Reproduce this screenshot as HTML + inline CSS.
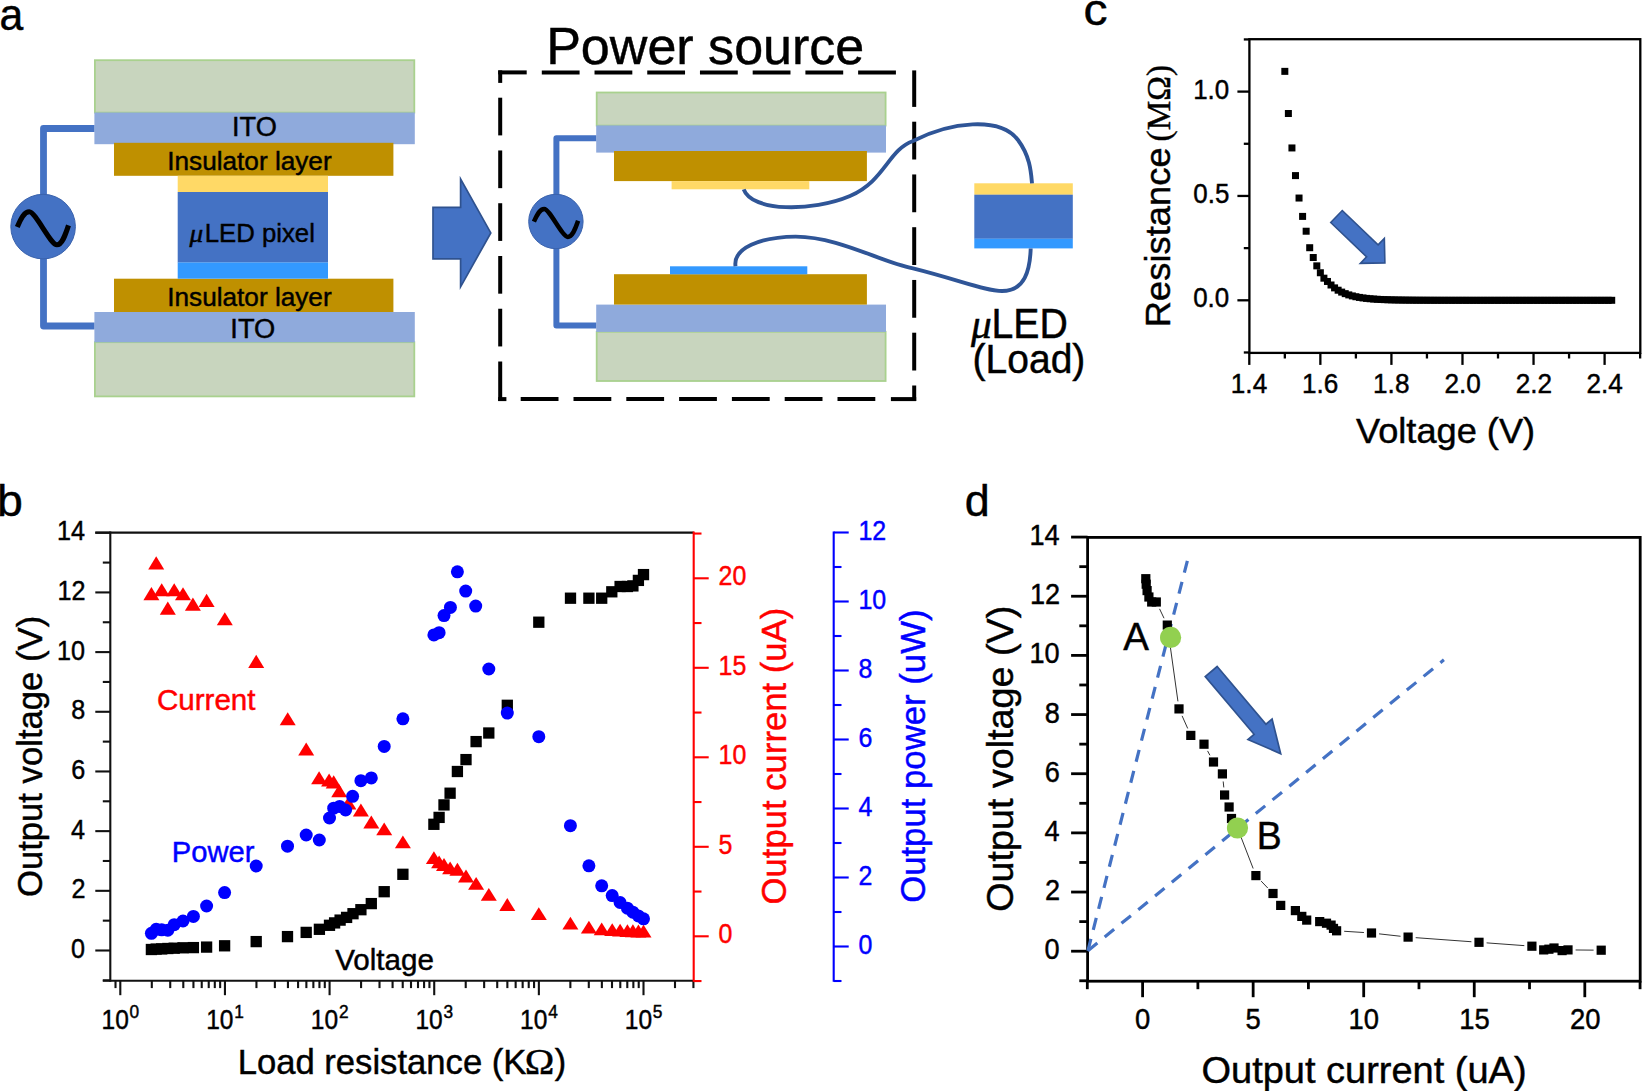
<!DOCTYPE html>
<html><head><meta charset="utf-8"><title>Figure</title>
<style>html,body{margin:0;padding:0;background:#fff;}svg{display:block;}</style></head>
<body><svg width="1642" height="1091" viewBox="0 0 1642 1091">
<rect width="1642" height="1091" fill="#fff"/>
<rect x="94.90" y="60.20" width="319.40" height="52.40" fill="#C8D5BE" stroke="#A9D18E" stroke-width="1.8"/>
<rect x="94.90" y="342.20" width="319.40" height="54.20" fill="#C8D5BE" stroke="#A9D18E" stroke-width="1.8"/>
<rect x="94.40" y="112.50" width="320.40" height="31.70" fill="#8FAADC"/>
<rect x="94.40" y="312.00" width="320.40" height="30.30" fill="#8FAADC"/>
<rect x="114.00" y="142.80" width="279.40" height="33.00" fill="#BF9000"/>
<rect x="114.00" y="278.70" width="279.40" height="33.30" fill="#BF9000"/>
<rect x="177.70" y="175.80" width="150.30" height="16.30" fill="#FFD966"/>
<rect x="177.70" y="192.00" width="150.30" height="70.60" fill="#4472C4"/>
<rect x="177.70" y="262.50" width="150.30" height="16.20" fill="#3399FF"/>
<path d="M94.4,128.5 H43.5 V326 H94.4" fill="none" stroke="#4472C4" stroke-width="6.8" stroke-linejoin="round"/>
<circle cx="43.1" cy="226.6" r="32.3" fill="#4472C4" stroke="#3A62AC" stroke-width="1"/>
<path d="M17.3,227 C21.5,217 24.5,211.8 29.3,211.8 C35.5,211.8 50.5,244.8 56.9,244.8 C62,244.8 65,236 68.5,225.4" fill="none" stroke="#000" stroke-width="5.1"/>
<text transform="translate(231.95,135.90) scale(1.0081,1)" font-size="27" font-family="Liberation Sans, Arial, sans-serif" fill="#000" stroke="#000" stroke-width="0.45" >ITO</text>
<text transform="translate(167.24,169.90) scale(1.0072,1)" font-size="26" font-family="Liberation Sans, Arial, sans-serif" fill="#000" stroke="#000" stroke-width="0.45" >Insulator layer</text>
<text transform="translate(189.50,241.70) scale(1.0475,1)" font-size="26" font-family="Liberation Serif, Times New Roman, serif" font-style="italic" fill="#000" stroke="#000" stroke-width="0.45" >μ</text>
<text transform="translate(204.74,241.70) scale(0.9756,1)" font-size="26.4" font-family="Liberation Sans, Arial, sans-serif" fill="#000" stroke="#000" stroke-width="0.45" >LED pixel</text>
<text transform="translate(167.24,306.20) scale(1.0072,1)" font-size="26" font-family="Liberation Sans, Arial, sans-serif" fill="#000" stroke="#000" stroke-width="0.45" >Insulator layer</text>
<text transform="translate(230.34,337.80) scale(1.0105,1)" font-size="27" font-family="Liberation Sans, Arial, sans-serif" fill="#000" stroke="#000" stroke-width="0.45" >ITO</text>
<path d="M433,207.4 H460.6 V179 L490.8,232.9 L460.6,286.8 V258.9 H433 Z" fill="#4472C4" stroke="#2F528F" stroke-width="1.7" stroke-linejoin="miter"/>
<text transform="translate(546.14,64.40) scale(1.0010,1)" font-size="52" font-family="Liberation Sans, Arial, sans-serif" fill="#000" stroke="#000" stroke-width="0.45" >Power source</text>
<line x1="498.20" y1="72.40" x2="526.70" y2="72.40" stroke="#000" stroke-width="4" />
<line x1="541.80" y1="72.40" x2="579.60" y2="72.40" stroke="#000" stroke-width="4" />
<line x1="594.52" y1="72.40" x2="632.32" y2="72.40" stroke="#000" stroke-width="4" />
<line x1="647.24" y1="72.40" x2="685.04" y2="72.40" stroke="#000" stroke-width="4" />
<line x1="699.96" y1="72.40" x2="737.76" y2="72.40" stroke="#000" stroke-width="4" />
<line x1="752.68" y1="72.40" x2="790.48" y2="72.40" stroke="#000" stroke-width="4" />
<line x1="805.40" y1="72.40" x2="843.20" y2="72.40" stroke="#000" stroke-width="4" />
<line x1="858.12" y1="72.40" x2="895.92" y2="72.40" stroke="#000" stroke-width="4" />
<line x1="500.20" y1="70.40" x2="500.20" y2="82.90" stroke="#000" stroke-width="4" />
<line x1="500.20" y1="97.70" x2="500.20" y2="135.40" stroke="#000" stroke-width="4" />
<line x1="500.20" y1="150.46" x2="500.20" y2="188.16" stroke="#000" stroke-width="4" />
<line x1="500.20" y1="203.22" x2="500.20" y2="240.92" stroke="#000" stroke-width="4" />
<line x1="500.20" y1="255.98" x2="500.20" y2="293.68" stroke="#000" stroke-width="4" />
<line x1="500.20" y1="308.74" x2="500.20" y2="346.44" stroke="#000" stroke-width="4" />
<line x1="500.20" y1="361.50" x2="500.20" y2="401.00" stroke="#000" stroke-width="4" />
<line x1="914.20" y1="70.40" x2="914.20" y2="106.90" stroke="#000" stroke-width="4" />
<line x1="914.20" y1="121.70" x2="914.20" y2="159.50" stroke="#000" stroke-width="4" />
<line x1="914.20" y1="174.45" x2="914.20" y2="212.25" stroke="#000" stroke-width="4" />
<line x1="914.20" y1="227.20" x2="914.20" y2="265.00" stroke="#000" stroke-width="4" />
<line x1="914.20" y1="279.95" x2="914.20" y2="317.75" stroke="#000" stroke-width="4" />
<line x1="914.20" y1="332.70" x2="914.20" y2="370.50" stroke="#000" stroke-width="4" />
<line x1="914.20" y1="385.50" x2="914.20" y2="401.00" stroke="#000" stroke-width="4" />
<line x1="498.20" y1="399.10" x2="506.40" y2="399.10" stroke="#000" stroke-width="4" />
<line x1="520.70" y1="399.10" x2="558.50" y2="399.10" stroke="#000" stroke-width="4" />
<line x1="573.50" y1="399.10" x2="611.30" y2="399.10" stroke="#000" stroke-width="4" />
<line x1="626.30" y1="399.10" x2="664.10" y2="399.10" stroke="#000" stroke-width="4" />
<line x1="679.10" y1="399.10" x2="716.90" y2="399.10" stroke="#000" stroke-width="4" />
<line x1="731.90" y1="399.10" x2="769.70" y2="399.10" stroke="#000" stroke-width="4" />
<line x1="784.70" y1="399.10" x2="822.50" y2="399.10" stroke="#000" stroke-width="4" />
<line x1="837.50" y1="399.10" x2="875.30" y2="399.10" stroke="#000" stroke-width="4" />
<line x1="890.90" y1="399.10" x2="916.20" y2="399.10" stroke="#000" stroke-width="4" />
<rect x="596.70" y="92.50" width="288.90" height="33.10" fill="#C8D5BE" stroke="#A9D18E" stroke-width="1.8"/>
<rect x="596.70" y="331.80" width="288.90" height="49.20" fill="#C8D5BE" stroke="#A9D18E" stroke-width="1.8"/>
<rect x="596.20" y="125.40" width="289.80" height="27.20" fill="#8FAADC"/>
<rect x="596.20" y="304.60" width="289.80" height="27.30" fill="#8FAADC"/>
<rect x="614.00" y="151.00" width="252.90" height="30.10" fill="#BF9000"/>
<rect x="614.00" y="274.20" width="252.90" height="30.40" fill="#BF9000"/>
<rect x="671.60" y="181.10" width="137.70" height="8.20" fill="#FFD966"/>
<rect x="670.00" y="266.30" width="137.30" height="8.00" fill="#3399FF"/>
<path d="M596.2,138.2 H556.4 V325.5 H596.2" fill="none" stroke="#4472C4" stroke-width="6.0" stroke-linejoin="round"/>
<circle cx="555.9" cy="221.5" r="27.2" fill="#4472C4" stroke="#3A62AC" stroke-width="1"/>
<path d="M533.9,221.7 C537.5,213.5 540,208.9 544.2,208.9 C549.5,208.9 562.3,236.9 567.8,236.9 C572,236.9 575,230 578.1,220.8" fill="none" stroke="#000" stroke-width="4.5"/>
<rect x="974.30" y="183.30" width="98.50" height="11.50" fill="#FFD966"/>
<rect x="974.30" y="194.70" width="98.50" height="44.10" fill="#4472C4"/>
<rect x="974.30" y="238.70" width="98.50" height="9.70" fill="#3399FF"/>
<path d="M743.7,189.3 C752,212 812,212 850,196 C885,181 888,150 913,141 C950,122 1000,116 1018,140 C1030,156 1031,172 1032,183.3" fill="none" stroke="#2F5597" stroke-width="3.9"/>
<path d="M735.5,266.3 C733,248 760,237 795.7,236.6 C840,237 880,262 913,268.3 C960,280 985,291 1002,291 C1025,291 1030,270 1030.7,248.5" fill="none" stroke="#2F5597" stroke-width="3.9"/>
<text transform="translate(971.00,337.80) scale(1.0319,1)" font-size="40" font-family="Liberation Serif, Times New Roman, serif" font-style="italic" fill="#000" stroke="#000" stroke-width="0.45" >μ</text>
<text transform="translate(991.46,337.80) scale(0.9430,1)" font-size="41.6" font-family="Liberation Sans, Arial, sans-serif" fill="#000" stroke="#000" stroke-width="0.45" >LED</text>
<text transform="translate(972.56,372.80) scale(0.9756,1)" font-size="40" font-family="Liberation Sans, Arial, sans-serif" fill="#000" stroke="#000" stroke-width="0.45" >(Load)</text>
<text transform="translate(-0.61,30.00) scale(0.9643,1)" font-size="44.3" font-family="Liberation Sans, Arial, sans-serif" fill="#000" stroke="#000" stroke-width="0.45" >a</text>
<text transform="translate(-3.02,515.50) scale(1.0484,1)" font-size="44.3" font-family="Liberation Sans, Arial, sans-serif" fill="#000" stroke="#000" stroke-width="0.45" >b</text>
<text transform="translate(1083.48,24.80) scale(1.0846,1)" font-size="44.3" font-family="Liberation Sans, Arial, sans-serif" fill="#000" stroke="#000" stroke-width="0.45" >c</text>
<text transform="translate(964.70,515.50) scale(1.0133,1)" font-size="44.3" font-family="Liberation Sans, Arial, sans-serif" fill="#000" stroke="#000" stroke-width="0.45" >d</text>
<rect x="1249.4" y="39.2" width="390.89999999999986" height="313.7" fill="none" stroke="#000" stroke-width="2.3"/>
<line x1="1243.80" y1="352.48" x2="1249.40" y2="352.48" stroke="#000" stroke-width="2.3" />
<line x1="1237.40" y1="300.30" x2="1249.40" y2="300.30" stroke="#000" stroke-width="2.3" />
<text transform="translate(1193.19,307.30) scale(0.9423,1)" font-size="27.5" font-family="Liberation Sans, Arial, sans-serif" fill="#000" stroke="#000" stroke-width="0.45" >0.0</text>
<line x1="1243.80" y1="248.12" x2="1249.40" y2="248.12" stroke="#000" stroke-width="2.3" />
<line x1="1237.40" y1="195.95" x2="1249.40" y2="195.95" stroke="#000" stroke-width="2.3" />
<text transform="translate(1193.32,202.95) scale(0.9423,1)" font-size="27.5" font-family="Liberation Sans, Arial, sans-serif" fill="#000" stroke="#000" stroke-width="0.45" >0.5</text>
<line x1="1243.80" y1="143.78" x2="1249.40" y2="143.78" stroke="#000" stroke-width="2.3" />
<line x1="1237.40" y1="91.60" x2="1249.40" y2="91.60" stroke="#000" stroke-width="2.3" />
<text transform="translate(1193.19,98.60) scale(0.9423,1)" font-size="27.5" font-family="Liberation Sans, Arial, sans-serif" fill="#000" stroke="#000" stroke-width="0.45" >1.0</text>
<line x1="1243.80" y1="39.43" x2="1249.40" y2="39.43" stroke="#000" stroke-width="2.3" />
<line x1="1249.30" y1="352.90" x2="1249.30" y2="364.90" stroke="#000" stroke-width="2.3" />
<text transform="translate(1230.82,392.60) scale(0.9519,1)" font-size="27.5" font-family="Liberation Sans, Arial, sans-serif" fill="#000" stroke="#000" stroke-width="0.45" >1.4</text>
<line x1="1284.83" y1="352.90" x2="1284.83" y2="358.50" stroke="#000" stroke-width="2.3" />
<line x1="1320.36" y1="352.90" x2="1320.36" y2="364.90" stroke="#000" stroke-width="2.3" />
<text transform="translate(1302.01,392.60) scale(0.9519,1)" font-size="27.5" font-family="Liberation Sans, Arial, sans-serif" fill="#000" stroke="#000" stroke-width="0.45" >1.6</text>
<line x1="1355.89" y1="352.90" x2="1355.89" y2="358.50" stroke="#000" stroke-width="2.3" />
<line x1="1391.42" y1="352.90" x2="1391.42" y2="364.90" stroke="#000" stroke-width="2.3" />
<text transform="translate(1373.07,392.60) scale(0.9519,1)" font-size="27.5" font-family="Liberation Sans, Arial, sans-serif" fill="#000" stroke="#000" stroke-width="0.45" >1.8</text>
<line x1="1426.95" y1="352.90" x2="1426.95" y2="358.50" stroke="#000" stroke-width="2.3" />
<line x1="1462.48" y1="352.90" x2="1462.48" y2="364.90" stroke="#000" stroke-width="2.3" />
<text transform="translate(1444.39,392.60) scale(0.9519,1)" font-size="27.5" font-family="Liberation Sans, Arial, sans-serif" fill="#000" stroke="#000" stroke-width="0.45" >2.0</text>
<line x1="1498.01" y1="352.90" x2="1498.01" y2="358.50" stroke="#000" stroke-width="2.3" />
<line x1="1533.54" y1="352.90" x2="1533.54" y2="364.90" stroke="#000" stroke-width="2.3" />
<text transform="translate(1515.65,392.60) scale(0.9519,1)" font-size="27.5" font-family="Liberation Sans, Arial, sans-serif" fill="#000" stroke="#000" stroke-width="0.45" >2.2</text>
<line x1="1569.07" y1="352.90" x2="1569.07" y2="358.50" stroke="#000" stroke-width="2.3" />
<line x1="1604.60" y1="352.90" x2="1604.60" y2="364.90" stroke="#000" stroke-width="2.3" />
<text transform="translate(1586.44,392.60) scale(0.9519,1)" font-size="27.5" font-family="Liberation Sans, Arial, sans-serif" fill="#000" stroke="#000" stroke-width="0.45" >2.4</text>
<line x1="1640.13" y1="352.90" x2="1640.13" y2="358.50" stroke="#000" stroke-width="2.3" />
<text transform="translate(1356.02,442.80) scale(1.0200,1)" font-size="35.5" font-family="Liberation Sans, Arial, sans-serif" fill="#000" stroke="#000" stroke-width="0.45" >Voltage (V)</text>
<text transform="translate(1169.60,327.31) rotate(-90) scale(1.0108,1)" font-size="36" font-family="Liberation Sans, Arial, sans-serif" fill="#000" stroke="#000" stroke-width="0.45">Resistance</text>
<text transform="translate(1169.60,141.39) rotate(-90) scale(0.9627,1)" font-size="34.5" font-family="Liberation Serif, Times New Roman, serif" fill="#000" stroke="#000" stroke-width="0.45">(MΩ)</text>
<rect x="1281.33" y="67.86" width="7.0" height="7.0" fill="#000"/>
<rect x="1284.88" y="110.01" width="7.0" height="7.0" fill="#000"/>
<rect x="1288.44" y="144.45" width="7.0" height="7.0" fill="#000"/>
<rect x="1291.99" y="172.10" width="7.0" height="7.0" fill="#000"/>
<rect x="1295.54" y="194.54" width="7.0" height="7.0" fill="#000"/>
<rect x="1299.10" y="212.90" width="7.0" height="7.0" fill="#000"/>
<rect x="1302.65" y="227.72" width="7.0" height="7.0" fill="#000"/>
<rect x="1306.20" y="244.21" width="7.0" height="7.0" fill="#000"/>
<rect x="1309.75" y="254.02" width="7.0" height="7.0" fill="#000"/>
<rect x="1313.31" y="262.36" width="7.0" height="7.0" fill="#000"/>
<rect x="1316.86" y="269.25" width="7.0" height="7.0" fill="#000"/>
<rect x="1320.41" y="274.68" width="7.0" height="7.0" fill="#000"/>
<rect x="1323.97" y="277.96" width="7.0" height="7.0" fill="#000"/>
<rect x="1327.52" y="281.50" width="7.0" height="7.0" fill="#000"/>
<rect x="1331.07" y="284.38" width="7.0" height="7.0" fill="#000"/>
<rect x="1334.62" y="286.71" width="7.0" height="7.0" fill="#000"/>
<rect x="1338.18" y="288.61" width="7.0" height="7.0" fill="#000"/>
<rect x="1341.73" y="290.15" width="7.0" height="7.0" fill="#000"/>
<rect x="1345.28" y="291.40" width="7.0" height="7.0" fill="#000"/>
<rect x="1348.84" y="292.42" width="7.0" height="7.0" fill="#000"/>
<rect x="1352.39" y="293.24" width="7.0" height="7.0" fill="#000"/>
<rect x="1355.94" y="293.91" width="7.0" height="7.0" fill="#000"/>
<rect x="1359.50" y="294.45" width="7.0" height="7.0" fill="#000"/>
<rect x="1363.05" y="294.89" width="7.0" height="7.0" fill="#000"/>
<rect x="1366.60" y="295.25" width="7.0" height="7.0" fill="#000"/>
<rect x="1370.15" y="295.54" width="7.0" height="7.0" fill="#000"/>
<rect x="1373.71" y="295.78" width="7.0" height="7.0" fill="#000"/>
<rect x="1377.26" y="295.97" width="7.0" height="7.0" fill="#000"/>
<rect x="1380.81" y="296.13" width="7.0" height="7.0" fill="#000"/>
<rect x="1384.37" y="296.25" width="7.0" height="7.0" fill="#000"/>
<rect x="1387.92" y="296.36" width="7.0" height="7.0" fill="#000"/>
<rect x="1391.47" y="296.44" width="7.0" height="7.0" fill="#000"/>
<rect x="1395.03" y="296.51" width="7.0" height="7.0" fill="#000"/>
<rect x="1398.58" y="296.56" width="7.0" height="7.0" fill="#000"/>
<rect x="1402.13" y="296.61" width="7.0" height="7.0" fill="#000"/>
<rect x="1405.68" y="296.64" width="7.0" height="7.0" fill="#000"/>
<rect x="1409.24" y="296.67" width="7.0" height="7.0" fill="#000"/>
<rect x="1412.79" y="296.70" width="7.0" height="7.0" fill="#000"/>
<rect x="1416.34" y="296.72" width="7.0" height="7.0" fill="#000"/>
<rect x="1419.90" y="296.73" width="7.0" height="7.0" fill="#000"/>
<rect x="1423.45" y="296.74" width="7.0" height="7.0" fill="#000"/>
<rect x="1427.00" y="296.76" width="7.0" height="7.0" fill="#000"/>
<rect x="1430.56" y="296.76" width="7.0" height="7.0" fill="#000"/>
<rect x="1434.11" y="296.77" width="7.0" height="7.0" fill="#000"/>
<rect x="1437.66" y="296.78" width="7.0" height="7.0" fill="#000"/>
<rect x="1441.21" y="296.78" width="7.0" height="7.0" fill="#000"/>
<rect x="1444.77" y="296.78" width="7.0" height="7.0" fill="#000"/>
<rect x="1448.32" y="296.79" width="7.0" height="7.0" fill="#000"/>
<rect x="1451.87" y="296.79" width="7.0" height="7.0" fill="#000"/>
<rect x="1455.43" y="296.79" width="7.0" height="7.0" fill="#000"/>
<rect x="1458.98" y="296.79" width="7.0" height="7.0" fill="#000"/>
<rect x="1462.53" y="296.79" width="7.0" height="7.0" fill="#000"/>
<rect x="1466.09" y="296.80" width="7.0" height="7.0" fill="#000"/>
<rect x="1469.64" y="296.80" width="7.0" height="7.0" fill="#000"/>
<rect x="1473.19" y="296.80" width="7.0" height="7.0" fill="#000"/>
<rect x="1476.74" y="296.80" width="7.0" height="7.0" fill="#000"/>
<rect x="1480.30" y="296.80" width="7.0" height="7.0" fill="#000"/>
<rect x="1483.85" y="296.80" width="7.0" height="7.0" fill="#000"/>
<rect x="1487.40" y="296.80" width="7.0" height="7.0" fill="#000"/>
<rect x="1490.96" y="296.80" width="7.0" height="7.0" fill="#000"/>
<rect x="1494.51" y="296.80" width="7.0" height="7.0" fill="#000"/>
<rect x="1498.06" y="296.80" width="7.0" height="7.0" fill="#000"/>
<rect x="1501.62" y="296.80" width="7.0" height="7.0" fill="#000"/>
<rect x="1505.17" y="296.80" width="7.0" height="7.0" fill="#000"/>
<rect x="1508.72" y="296.80" width="7.0" height="7.0" fill="#000"/>
<rect x="1512.28" y="296.80" width="7.0" height="7.0" fill="#000"/>
<rect x="1515.83" y="296.80" width="7.0" height="7.0" fill="#000"/>
<rect x="1519.38" y="296.80" width="7.0" height="7.0" fill="#000"/>
<rect x="1522.93" y="296.80" width="7.0" height="7.0" fill="#000"/>
<rect x="1526.49" y="296.80" width="7.0" height="7.0" fill="#000"/>
<rect x="1530.04" y="296.80" width="7.0" height="7.0" fill="#000"/>
<rect x="1533.59" y="296.80" width="7.0" height="7.0" fill="#000"/>
<rect x="1537.15" y="296.80" width="7.0" height="7.0" fill="#000"/>
<rect x="1540.70" y="296.80" width="7.0" height="7.0" fill="#000"/>
<rect x="1544.25" y="296.80" width="7.0" height="7.0" fill="#000"/>
<rect x="1547.81" y="296.80" width="7.0" height="7.0" fill="#000"/>
<rect x="1551.36" y="296.80" width="7.0" height="7.0" fill="#000"/>
<rect x="1554.91" y="296.80" width="7.0" height="7.0" fill="#000"/>
<rect x="1558.46" y="296.80" width="7.0" height="7.0" fill="#000"/>
<rect x="1562.02" y="296.80" width="7.0" height="7.0" fill="#000"/>
<rect x="1565.57" y="296.80" width="7.0" height="7.0" fill="#000"/>
<rect x="1569.12" y="296.80" width="7.0" height="7.0" fill="#000"/>
<rect x="1572.68" y="296.80" width="7.0" height="7.0" fill="#000"/>
<rect x="1576.23" y="296.80" width="7.0" height="7.0" fill="#000"/>
<rect x="1579.78" y="296.80" width="7.0" height="7.0" fill="#000"/>
<rect x="1583.34" y="296.80" width="7.0" height="7.0" fill="#000"/>
<rect x="1586.89" y="296.80" width="7.0" height="7.0" fill="#000"/>
<rect x="1590.44" y="296.80" width="7.0" height="7.0" fill="#000"/>
<rect x="1593.99" y="296.80" width="7.0" height="7.0" fill="#000"/>
<rect x="1597.55" y="296.80" width="7.0" height="7.0" fill="#000"/>
<rect x="1601.10" y="296.80" width="7.0" height="7.0" fill="#000"/>
<rect x="1604.65" y="296.80" width="7.0" height="7.0" fill="#000"/>
<rect x="1608.21" y="296.80" width="7.0" height="7.0" fill="#000"/>
<polygon points="1342.24,210.51 1378.08,244.87 1384.35,238.33 1384.90,262.90 1360.33,263.38 1366.60,256.85 1330.76,222.49" fill="#4472C4" stroke="#2F528F" stroke-width="1.6" stroke-linejoin="miter"/>
<line x1="110.30" y1="531.55" x2="110.30" y2="981.75" stroke="#111" stroke-width="2.1" />
<line x1="95.30" y1="532.60" x2="693.70" y2="532.60" stroke="#111" stroke-width="2.1" />
<line x1="102.80" y1="980.70" x2="693.70" y2="980.70" stroke="#111" stroke-width="2.1" />
<line x1="102.80" y1="980.34" x2="110.30" y2="980.34" stroke="#111" stroke-width="2.1" />
<line x1="95.30" y1="950.50" x2="110.30" y2="950.50" stroke="#111" stroke-width="2.1" />
<text transform="translate(71.00,958.00) scale(0.9327,1)" font-size="27" font-family="Liberation Sans, Arial, sans-serif" fill="#000" stroke="#000" stroke-width="0.45" >0</text>
<line x1="102.80" y1="920.66" x2="110.30" y2="920.66" stroke="#111" stroke-width="2.1" />
<line x1="95.30" y1="890.82" x2="110.30" y2="890.82" stroke="#111" stroke-width="2.1" />
<text transform="translate(71.38,898.32) scale(0.9327,1)" font-size="27" font-family="Liberation Sans, Arial, sans-serif" fill="#000" stroke="#000" stroke-width="0.45" >2</text>
<line x1="102.80" y1="860.98" x2="110.30" y2="860.98" stroke="#111" stroke-width="2.1" />
<line x1="95.30" y1="831.14" x2="110.30" y2="831.14" stroke="#111" stroke-width="2.1" />
<text transform="translate(70.88,838.64) scale(0.9327,1)" font-size="27" font-family="Liberation Sans, Arial, sans-serif" fill="#000" stroke="#000" stroke-width="0.45" >4</text>
<line x1="102.80" y1="801.30" x2="110.30" y2="801.30" stroke="#111" stroke-width="2.1" />
<line x1="95.30" y1="771.46" x2="110.30" y2="771.46" stroke="#111" stroke-width="2.1" />
<text transform="translate(71.13,778.96) scale(0.9327,1)" font-size="27" font-family="Liberation Sans, Arial, sans-serif" fill="#000" stroke="#000" stroke-width="0.45" >6</text>
<line x1="102.80" y1="741.62" x2="110.30" y2="741.62" stroke="#111" stroke-width="2.1" />
<line x1="95.30" y1="711.78" x2="110.30" y2="711.78" stroke="#111" stroke-width="2.1" />
<text transform="translate(71.13,719.28) scale(0.9327,1)" font-size="27" font-family="Liberation Sans, Arial, sans-serif" fill="#000" stroke="#000" stroke-width="0.45" >8</text>
<line x1="102.80" y1="681.94" x2="110.30" y2="681.94" stroke="#111" stroke-width="2.1" />
<line x1="95.30" y1="652.10" x2="110.30" y2="652.10" stroke="#111" stroke-width="2.1" />
<text transform="translate(57.03,659.60) scale(0.9327,1)" font-size="27" font-family="Liberation Sans, Arial, sans-serif" fill="#000" stroke="#000" stroke-width="0.45" >10</text>
<line x1="102.80" y1="622.26" x2="110.30" y2="622.26" stroke="#111" stroke-width="2.1" />
<line x1="95.30" y1="592.42" x2="110.30" y2="592.42" stroke="#111" stroke-width="2.1" />
<text transform="translate(57.41,599.92) scale(0.9327,1)" font-size="27" font-family="Liberation Sans, Arial, sans-serif" fill="#000" stroke="#000" stroke-width="0.45" >12</text>
<line x1="102.80" y1="562.58" x2="110.30" y2="562.58" stroke="#111" stroke-width="2.1" />
<line x1="95.30" y1="532.74" x2="110.30" y2="532.74" stroke="#111" stroke-width="2.1" />
<text transform="translate(56.90,540.24) scale(0.9327,1)" font-size="27" font-family="Liberation Sans, Arial, sans-serif" fill="#000" stroke="#000" stroke-width="0.45" >14</text>
<line x1="115.51" y1="980.70" x2="115.51" y2="988.10" stroke="#111" stroke-width="2.1" />
<line x1="120.30" y1="980.70" x2="120.30" y2="995.20" stroke="#111" stroke-width="2.1" />
<line x1="151.80" y1="980.70" x2="151.80" y2="988.10" stroke="#111" stroke-width="2.1" />
<line x1="170.23" y1="980.70" x2="170.23" y2="988.10" stroke="#111" stroke-width="2.1" />
<line x1="183.30" y1="980.70" x2="183.30" y2="988.10" stroke="#111" stroke-width="2.1" />
<line x1="193.44" y1="980.70" x2="193.44" y2="988.10" stroke="#111" stroke-width="2.1" />
<line x1="201.73" y1="980.70" x2="201.73" y2="988.10" stroke="#111" stroke-width="2.1" />
<line x1="208.73" y1="980.70" x2="208.73" y2="988.10" stroke="#111" stroke-width="2.1" />
<line x1="214.80" y1="980.70" x2="214.80" y2="988.10" stroke="#111" stroke-width="2.1" />
<line x1="220.15" y1="980.70" x2="220.15" y2="988.10" stroke="#111" stroke-width="2.1" />
<line x1="224.94" y1="980.70" x2="224.94" y2="995.20" stroke="#111" stroke-width="2.1" />
<line x1="256.44" y1="980.70" x2="256.44" y2="988.10" stroke="#111" stroke-width="2.1" />
<line x1="274.87" y1="980.70" x2="274.87" y2="988.10" stroke="#111" stroke-width="2.1" />
<line x1="287.94" y1="980.70" x2="287.94" y2="988.10" stroke="#111" stroke-width="2.1" />
<line x1="298.08" y1="980.70" x2="298.08" y2="988.10" stroke="#111" stroke-width="2.1" />
<line x1="306.37" y1="980.70" x2="306.37" y2="988.10" stroke="#111" stroke-width="2.1" />
<line x1="313.37" y1="980.70" x2="313.37" y2="988.10" stroke="#111" stroke-width="2.1" />
<line x1="319.44" y1="980.70" x2="319.44" y2="988.10" stroke="#111" stroke-width="2.1" />
<line x1="324.79" y1="980.70" x2="324.79" y2="988.10" stroke="#111" stroke-width="2.1" />
<line x1="329.58" y1="980.70" x2="329.58" y2="995.20" stroke="#111" stroke-width="2.1" />
<line x1="361.08" y1="980.70" x2="361.08" y2="988.10" stroke="#111" stroke-width="2.1" />
<line x1="379.51" y1="980.70" x2="379.51" y2="988.10" stroke="#111" stroke-width="2.1" />
<line x1="392.58" y1="980.70" x2="392.58" y2="988.10" stroke="#111" stroke-width="2.1" />
<line x1="402.72" y1="980.70" x2="402.72" y2="988.10" stroke="#111" stroke-width="2.1" />
<line x1="411.01" y1="980.70" x2="411.01" y2="988.10" stroke="#111" stroke-width="2.1" />
<line x1="418.01" y1="980.70" x2="418.01" y2="988.10" stroke="#111" stroke-width="2.1" />
<line x1="424.08" y1="980.70" x2="424.08" y2="988.10" stroke="#111" stroke-width="2.1" />
<line x1="429.43" y1="980.70" x2="429.43" y2="988.10" stroke="#111" stroke-width="2.1" />
<line x1="434.22" y1="980.70" x2="434.22" y2="995.20" stroke="#111" stroke-width="2.1" />
<line x1="465.72" y1="980.70" x2="465.72" y2="988.10" stroke="#111" stroke-width="2.1" />
<line x1="484.15" y1="980.70" x2="484.15" y2="988.10" stroke="#111" stroke-width="2.1" />
<line x1="497.22" y1="980.70" x2="497.22" y2="988.10" stroke="#111" stroke-width="2.1" />
<line x1="507.36" y1="980.70" x2="507.36" y2="988.10" stroke="#111" stroke-width="2.1" />
<line x1="515.65" y1="980.70" x2="515.65" y2="988.10" stroke="#111" stroke-width="2.1" />
<line x1="522.65" y1="980.70" x2="522.65" y2="988.10" stroke="#111" stroke-width="2.1" />
<line x1="528.72" y1="980.70" x2="528.72" y2="988.10" stroke="#111" stroke-width="2.1" />
<line x1="534.07" y1="980.70" x2="534.07" y2="988.10" stroke="#111" stroke-width="2.1" />
<line x1="538.86" y1="980.70" x2="538.86" y2="995.20" stroke="#111" stroke-width="2.1" />
<line x1="570.36" y1="980.70" x2="570.36" y2="988.10" stroke="#111" stroke-width="2.1" />
<line x1="588.79" y1="980.70" x2="588.79" y2="988.10" stroke="#111" stroke-width="2.1" />
<line x1="601.86" y1="980.70" x2="601.86" y2="988.10" stroke="#111" stroke-width="2.1" />
<line x1="612.00" y1="980.70" x2="612.00" y2="988.10" stroke="#111" stroke-width="2.1" />
<line x1="620.29" y1="980.70" x2="620.29" y2="988.10" stroke="#111" stroke-width="2.1" />
<line x1="627.29" y1="980.70" x2="627.29" y2="988.10" stroke="#111" stroke-width="2.1" />
<line x1="633.36" y1="980.70" x2="633.36" y2="988.10" stroke="#111" stroke-width="2.1" />
<line x1="638.71" y1="980.70" x2="638.71" y2="988.10" stroke="#111" stroke-width="2.1" />
<line x1="643.50" y1="980.70" x2="643.50" y2="995.20" stroke="#111" stroke-width="2.1" />
<line x1="675.00" y1="980.70" x2="675.00" y2="988.10" stroke="#111" stroke-width="2.1" />
<line x1="693.43" y1="980.70" x2="693.43" y2="988.10" stroke="#111" stroke-width="2.1" />
<text transform="translate(101.56,1029.00) scale(0.9074,1)" font-size="27" font-family="Liberation Sans, Arial, sans-serif" fill="#000" stroke="#000" stroke-width="0.45" >10</text>
<text transform="translate(129.60,1018.30) scale(0.9615,1)" font-size="18" font-family="Liberation Sans, Arial, sans-serif" fill="#000" stroke="#000" stroke-width="0.45" >0</text>
<text transform="translate(206.20,1029.00) scale(0.9074,1)" font-size="27" font-family="Liberation Sans, Arial, sans-serif" fill="#000" stroke="#000" stroke-width="0.45" >10</text>
<text transform="translate(234.24,1018.30) scale(0.9615,1)" font-size="18" font-family="Liberation Sans, Arial, sans-serif" fill="#000" stroke="#000" stroke-width="0.45" >1</text>
<text transform="translate(310.84,1029.00) scale(0.9074,1)" font-size="27" font-family="Liberation Sans, Arial, sans-serif" fill="#000" stroke="#000" stroke-width="0.45" >10</text>
<text transform="translate(338.88,1018.30) scale(0.9615,1)" font-size="18" font-family="Liberation Sans, Arial, sans-serif" fill="#000" stroke="#000" stroke-width="0.45" >2</text>
<text transform="translate(415.48,1029.00) scale(0.9074,1)" font-size="27" font-family="Liberation Sans, Arial, sans-serif" fill="#000" stroke="#000" stroke-width="0.45" >10</text>
<text transform="translate(443.52,1018.30) scale(0.9615,1)" font-size="18" font-family="Liberation Sans, Arial, sans-serif" fill="#000" stroke="#000" stroke-width="0.45" >3</text>
<text transform="translate(520.12,1029.00) scale(0.9074,1)" font-size="27" font-family="Liberation Sans, Arial, sans-serif" fill="#000" stroke="#000" stroke-width="0.45" >10</text>
<text transform="translate(548.16,1018.30) scale(0.9615,1)" font-size="18" font-family="Liberation Sans, Arial, sans-serif" fill="#000" stroke="#000" stroke-width="0.45" >4</text>
<text transform="translate(624.76,1029.00) scale(0.9074,1)" font-size="27" font-family="Liberation Sans, Arial, sans-serif" fill="#000" stroke="#000" stroke-width="0.45" >10</text>
<text transform="translate(652.80,1018.30) scale(0.9615,1)" font-size="18" font-family="Liberation Sans, Arial, sans-serif" fill="#000" stroke="#000" stroke-width="0.45" >5</text>
<line x1="693.70" y1="531.55" x2="693.70" y2="981.75" stroke="#FF0000" stroke-width="2.1" />
<line x1="693.70" y1="981.05" x2="701.50" y2="981.05" stroke="#FF0000" stroke-width="2.1" />
<line x1="693.70" y1="936.30" x2="708.70" y2="936.30" stroke="#FF0000" stroke-width="2.1" />
<text transform="translate(718.60,943.40) scale(0.9244,1)" font-size="27" font-family="Liberation Sans, Arial, sans-serif" fill="#FF0000" stroke="#FF0000" stroke-width="0.45" >0</text>
<line x1="693.70" y1="891.55" x2="701.50" y2="891.55" stroke="#FF0000" stroke-width="2.1" />
<line x1="693.70" y1="846.80" x2="708.70" y2="846.80" stroke="#FF0000" stroke-width="2.1" />
<text transform="translate(718.60,853.90) scale(0.9244,1)" font-size="27" font-family="Liberation Sans, Arial, sans-serif" fill="#FF0000" stroke="#FF0000" stroke-width="0.45" >5</text>
<line x1="693.70" y1="802.05" x2="701.50" y2="802.05" stroke="#FF0000" stroke-width="2.1" />
<line x1="693.70" y1="757.30" x2="708.70" y2="757.30" stroke="#FF0000" stroke-width="2.1" />
<text transform="translate(718.60,764.40) scale(0.9244,1)" font-size="27" font-family="Liberation Sans, Arial, sans-serif" fill="#FF0000" stroke="#FF0000" stroke-width="0.45" >10</text>
<line x1="693.70" y1="712.55" x2="701.50" y2="712.55" stroke="#FF0000" stroke-width="2.1" />
<line x1="693.70" y1="667.80" x2="708.70" y2="667.80" stroke="#FF0000" stroke-width="2.1" />
<text transform="translate(718.60,674.90) scale(0.9244,1)" font-size="27" font-family="Liberation Sans, Arial, sans-serif" fill="#FF0000" stroke="#FF0000" stroke-width="0.45" >15</text>
<line x1="693.70" y1="623.05" x2="701.50" y2="623.05" stroke="#FF0000" stroke-width="2.1" />
<line x1="693.70" y1="578.30" x2="708.70" y2="578.30" stroke="#FF0000" stroke-width="2.1" />
<text transform="translate(718.60,585.40) scale(0.9244,1)" font-size="27" font-family="Liberation Sans, Arial, sans-serif" fill="#FF0000" stroke="#FF0000" stroke-width="0.45" >20</text>
<line x1="693.70" y1="533.55" x2="701.50" y2="533.55" stroke="#FF0000" stroke-width="2.1" />
<line x1="833.70" y1="531.55" x2="833.70" y2="981.75" stroke="#0000FF" stroke-width="2.1" />
<line x1="833.70" y1="981.00" x2="841.50" y2="981.00" stroke="#0000FF" stroke-width="2.1" />
<line x1="833.70" y1="946.50" x2="848.70" y2="946.50" stroke="#0000FF" stroke-width="2.1" />
<text transform="translate(858.40,953.60) scale(0.9244,1)" font-size="27" font-family="Liberation Sans, Arial, sans-serif" fill="#0000FF" stroke="#0000FF" stroke-width="0.45" >0</text>
<line x1="833.70" y1="912.00" x2="841.50" y2="912.00" stroke="#0000FF" stroke-width="2.1" />
<line x1="833.70" y1="877.50" x2="848.70" y2="877.50" stroke="#0000FF" stroke-width="2.1" />
<text transform="translate(858.40,884.60) scale(0.9244,1)" font-size="27" font-family="Liberation Sans, Arial, sans-serif" fill="#0000FF" stroke="#0000FF" stroke-width="0.45" >2</text>
<line x1="833.70" y1="843.00" x2="841.50" y2="843.00" stroke="#0000FF" stroke-width="2.1" />
<line x1="833.70" y1="808.50" x2="848.70" y2="808.50" stroke="#0000FF" stroke-width="2.1" />
<text transform="translate(858.40,815.60) scale(0.9244,1)" font-size="27" font-family="Liberation Sans, Arial, sans-serif" fill="#0000FF" stroke="#0000FF" stroke-width="0.45" >4</text>
<line x1="833.70" y1="774.00" x2="841.50" y2="774.00" stroke="#0000FF" stroke-width="2.1" />
<line x1="833.70" y1="739.50" x2="848.70" y2="739.50" stroke="#0000FF" stroke-width="2.1" />
<text transform="translate(858.40,746.60) scale(0.9244,1)" font-size="27" font-family="Liberation Sans, Arial, sans-serif" fill="#0000FF" stroke="#0000FF" stroke-width="0.45" >6</text>
<line x1="833.70" y1="705.00" x2="841.50" y2="705.00" stroke="#0000FF" stroke-width="2.1" />
<line x1="833.70" y1="670.50" x2="848.70" y2="670.50" stroke="#0000FF" stroke-width="2.1" />
<text transform="translate(858.40,677.60) scale(0.9244,1)" font-size="27" font-family="Liberation Sans, Arial, sans-serif" fill="#0000FF" stroke="#0000FF" stroke-width="0.45" >8</text>
<line x1="833.70" y1="636.00" x2="841.50" y2="636.00" stroke="#0000FF" stroke-width="2.1" />
<line x1="833.70" y1="601.50" x2="848.70" y2="601.50" stroke="#0000FF" stroke-width="2.1" />
<text transform="translate(858.40,608.60) scale(0.9244,1)" font-size="27" font-family="Liberation Sans, Arial, sans-serif" fill="#0000FF" stroke="#0000FF" stroke-width="0.45" >10</text>
<line x1="833.70" y1="567.00" x2="841.50" y2="567.00" stroke="#0000FF" stroke-width="2.1" />
<line x1="833.70" y1="532.50" x2="848.70" y2="532.50" stroke="#0000FF" stroke-width="2.1" />
<text transform="translate(858.40,539.60) scale(0.9244,1)" font-size="27" font-family="Liberation Sans, Arial, sans-serif" fill="#0000FF" stroke="#0000FF" stroke-width="0.45" >12</text>
<text transform="translate(42.00,897.06) rotate(-90) scale(0.9905,1)" font-size="35" font-family="Liberation Sans, Arial, sans-serif" fill="#000" stroke="#000" stroke-width="0.45">Output voltage (V)</text>
<text transform="translate(785.80,904.46) rotate(-90) scale(0.9910,1)" font-size="35" font-family="Liberation Sans, Arial, sans-serif" fill="#FF0000" stroke="#FF0000" stroke-width="0.45">Output current (uA)</text>
<text transform="translate(925.20,902.86) rotate(-90) scale(0.9928,1)" font-size="35" font-family="Liberation Sans, Arial, sans-serif" fill="#0000FF" stroke="#0000FF" stroke-width="0.45">Output power (uW)</text>
<text transform="translate(237.63,1073.90) scale(0.9761,1)" font-size="35.5" font-family="Liberation Sans, Arial, sans-serif" fill="#000" stroke="#000" stroke-width="0.45" >Load resistance (K</text>
<text transform="translate(524.81,1073.90) scale(1.1224,1)" font-size="35.5" font-family="Liberation Serif, Times New Roman, serif" fill="#000" stroke="#000" stroke-width="0.45" >Ω</text>
<text transform="translate(554.63,1073.90) scale(0.9673,1)" font-size="35.5" font-family="Liberation Sans, Arial, sans-serif" fill="#000" stroke="#000" stroke-width="0.45" >)</text>
<rect x="145.75" y="943.85" width="11.3" height="11.3" fill="#000"/>
<rect x="150.55" y="943.45" width="11.3" height="11.3" fill="#000"/>
<rect x="156.05" y="943.25" width="11.3" height="11.3" fill="#000"/>
<rect x="162.15" y="942.85" width="11.3" height="11.3" fill="#000"/>
<rect x="168.55" y="942.55" width="11.3" height="11.3" fill="#000"/>
<rect x="177.35" y="942.15" width="11.3" height="11.3" fill="#000"/>
<rect x="187.75" y="941.95" width="11.3" height="11.3" fill="#000"/>
<rect x="200.95" y="941.45" width="11.3" height="11.3" fill="#000"/>
<rect x="218.95" y="940.15" width="11.3" height="11.3" fill="#000"/>
<rect x="250.55" y="935.95" width="11.3" height="11.3" fill="#000"/>
<rect x="281.85" y="930.95" width="11.3" height="11.3" fill="#000"/>
<rect x="300.55" y="926.75" width="11.3" height="11.3" fill="#000"/>
<rect x="313.75" y="923.65" width="11.3" height="11.3" fill="#000"/>
<rect x="323.85" y="919.65" width="11.3" height="11.3" fill="#000"/>
<rect x="328.95" y="917.25" width="11.3" height="11.3" fill="#000"/>
<rect x="334.45" y="914.45" width="11.3" height="11.3" fill="#000"/>
<rect x="340.95" y="911.75" width="11.3" height="11.3" fill="#000"/>
<rect x="347.35" y="908.05" width="11.3" height="11.3" fill="#000"/>
<rect x="355.25" y="904.05" width="11.3" height="11.3" fill="#000"/>
<rect x="365.65" y="897.95" width="11.3" height="11.3" fill="#000"/>
<rect x="378.55" y="886.05" width="11.3" height="11.3" fill="#000"/>
<rect x="397.25" y="868.65" width="11.3" height="11.3" fill="#000"/>
<rect x="428.25" y="818.65" width="11.3" height="11.3" fill="#000"/>
<rect x="433.45" y="811.75" width="11.3" height="11.3" fill="#000"/>
<rect x="438.35" y="799.25" width="11.3" height="11.3" fill="#000"/>
<rect x="444.45" y="787.55" width="11.3" height="11.3" fill="#000"/>
<rect x="451.75" y="765.85" width="11.3" height="11.3" fill="#000"/>
<rect x="460.35" y="753.95" width="11.3" height="11.3" fill="#000"/>
<rect x="470.45" y="735.95" width="11.3" height="11.3" fill="#000"/>
<rect x="483.15" y="727.35" width="11.3" height="11.3" fill="#000"/>
<rect x="501.65" y="699.65" width="11.3" height="11.3" fill="#000"/>
<rect x="533.15" y="616.55" width="11.3" height="11.3" fill="#000"/>
<rect x="564.85" y="592.55" width="11.3" height="11.3" fill="#000"/>
<rect x="583.25" y="592.55" width="11.3" height="11.3" fill="#000"/>
<rect x="596.05" y="592.55" width="11.3" height="11.3" fill="#000"/>
<rect x="606.15" y="586.15" width="11.3" height="11.3" fill="#000"/>
<rect x="614.45" y="580.85" width="11.3" height="11.3" fill="#000"/>
<rect x="621.75" y="580.85" width="11.3" height="11.3" fill="#000"/>
<rect x="627.25" y="580.25" width="11.3" height="11.3" fill="#000"/>
<rect x="632.75" y="574.75" width="11.3" height="11.3" fill="#000"/>
<rect x="637.85" y="568.95" width="11.3" height="11.3" fill="#000"/>
<polygon points="156.20,556.20 164.20,569.40 148.20,569.40" fill="#FF0000"/>
<polygon points="151.40,586.90 159.40,600.20 143.40,600.20" fill="#FF0000"/>
<polygon points="161.70,583.20 169.70,596.20 153.70,596.20" fill="#FF0000"/>
<polygon points="174.20,583.20 182.20,596.20 166.20,596.20" fill="#FF0000"/>
<polygon points="183.00,587.20 191.00,600.20 175.00,600.20" fill="#FF0000"/>
<polygon points="167.80,601.50 175.80,614.70 159.80,614.70" fill="#FF0000"/>
<polygon points="192.90,597.50 200.90,610.70 184.90,610.70" fill="#FF0000"/>
<polygon points="206.60,593.80 214.60,607.00 198.60,607.00" fill="#FF0000"/>
<polygon points="224.80,612.20 232.80,625.20 216.80,625.20" fill="#FF0000"/>
<polygon points="256.20,654.70 264.20,668.10 248.20,668.10" fill="#FF0000"/>
<polygon points="287.70,712.20 295.70,725.30 279.70,725.30" fill="#FF0000"/>
<polygon points="306.20,742.50 314.20,755.60 298.20,755.60" fill="#FF0000"/>
<polygon points="319.10,771.30 327.10,784.20 311.10,784.20" fill="#FF0000"/>
<polygon points="329.10,773.40 337.10,786.40 321.10,786.40" fill="#FF0000"/>
<polygon points="333.70,775.20 341.70,788.40 325.70,788.40" fill="#FF0000"/>
<polygon points="339.20,784.20 347.20,797.20 331.20,797.20" fill="#FF0000"/>
<polygon points="348.40,796.50 356.40,809.50 340.40,809.50" fill="#FF0000"/>
<polygon points="360.90,803.50 368.90,816.50 352.90,816.50" fill="#FF0000"/>
<polygon points="371.30,815.40 379.30,828.40 363.30,828.40" fill="#FF0000"/>
<polygon points="384.20,822.40 392.20,835.30 376.20,835.30" fill="#FF0000"/>
<polygon points="402.90,835.50 410.90,848.30 394.90,848.30" fill="#FF0000"/>
<polygon points="433.90,851.30 441.90,864.10 425.90,864.10" fill="#FF0000"/>
<polygon points="439.10,855.50 447.10,868.30 431.10,868.30" fill="#FF0000"/>
<polygon points="444.00,858.10 452.00,870.90 436.00,870.90" fill="#FF0000"/>
<polygon points="450.10,861.40 458.10,874.20 442.10,874.20" fill="#FF0000"/>
<polygon points="457.40,862.80 465.40,875.70 449.40,875.70" fill="#FF0000"/>
<polygon points="466.00,869.60 474.00,882.50 458.00,882.50" fill="#FF0000"/>
<polygon points="476.10,877.00 484.10,889.80 468.10,889.80" fill="#FF0000"/>
<polygon points="488.80,888.00 496.80,900.70 480.80,900.70" fill="#FF0000"/>
<polygon points="507.30,898.10 515.30,911.00 499.30,911.00" fill="#FF0000"/>
<polygon points="538.80,907.30 546.80,920.10 530.80,920.10" fill="#FF0000"/>
<polygon points="570.40,916.70 578.40,929.40 562.40,929.40" fill="#FF0000"/>
<polygon points="588.90,920.80 596.90,933.60 580.90,933.60" fill="#FF0000"/>
<polygon points="601.70,922.50 609.70,935.30 593.70,935.30" fill="#FF0000"/>
<polygon points="612.20,923.20 620.20,936.10 604.20,936.10" fill="#FF0000"/>
<polygon points="620.10,923.80 628.10,936.60 612.10,936.60" fill="#FF0000"/>
<polygon points="627.40,924.20 635.40,937.00 619.40,937.00" fill="#FF0000"/>
<polygon points="632.90,924.30 640.90,937.20 624.90,937.20" fill="#FF0000"/>
<polygon points="638.40,924.50 646.40,937.40 630.40,937.40" fill="#FF0000"/>
<polygon points="643.50,924.70 651.50,937.50 635.50,937.50" fill="#FF0000"/>
<circle cx="151.40" cy="933.30" r="6.5" fill="#0000FF"/>
<circle cx="156.20" cy="929.30" r="6.5" fill="#0000FF"/>
<circle cx="161.70" cy="929.80" r="6.5" fill="#0000FF"/>
<circle cx="167.80" cy="930.20" r="6.5" fill="#0000FF"/>
<circle cx="174.20" cy="924.70" r="6.5" fill="#0000FF"/>
<circle cx="183.00" cy="921.00" r="6.5" fill="#0000FF"/>
<circle cx="193.40" cy="916.40" r="6.5" fill="#0000FF"/>
<circle cx="206.60" cy="906.00" r="6.5" fill="#0000FF"/>
<circle cx="224.60" cy="892.60" r="6.5" fill="#0000FF"/>
<circle cx="256.20" cy="866.00" r="6.5" fill="#0000FF"/>
<circle cx="287.50" cy="846.20" r="6.5" fill="#0000FF"/>
<circle cx="306.20" cy="835.00" r="6.5" fill="#0000FF"/>
<circle cx="319.30" cy="840.00" r="6.5" fill="#0000FF"/>
<circle cx="329.50" cy="818.00" r="6.5" fill="#0000FF"/>
<circle cx="333.70" cy="808.20" r="6.5" fill="#0000FF"/>
<circle cx="339.60" cy="806.40" r="6.5" fill="#0000FF"/>
<circle cx="345.60" cy="810.00" r="6.5" fill="#0000FF"/>
<circle cx="352.60" cy="796.30" r="6.5" fill="#0000FF"/>
<circle cx="360.90" cy="780.70" r="6.5" fill="#0000FF"/>
<circle cx="371.30" cy="777.90" r="6.5" fill="#0000FF"/>
<circle cx="384.20" cy="746.40" r="6.5" fill="#0000FF"/>
<circle cx="402.90" cy="718.80" r="6.5" fill="#0000FF"/>
<circle cx="433.90" cy="634.90" r="6.5" fill="#0000FF"/>
<circle cx="439.10" cy="632.70" r="6.5" fill="#0000FF"/>
<circle cx="444.00" cy="615.60" r="6.5" fill="#0000FF"/>
<circle cx="450.40" cy="607.40" r="6.5" fill="#0000FF"/>
<circle cx="457.40" cy="571.80" r="6.5" fill="#0000FF"/>
<circle cx="465.70" cy="591.10" r="6.5" fill="#0000FF"/>
<circle cx="475.70" cy="606.10" r="6.5" fill="#0000FF"/>
<circle cx="488.80" cy="669.00" r="6.5" fill="#0000FF"/>
<circle cx="507.30" cy="713.10" r="6.5" fill="#0000FF"/>
<circle cx="538.80" cy="736.70" r="6.5" fill="#0000FF"/>
<circle cx="570.40" cy="825.70" r="6.5" fill="#0000FF"/>
<circle cx="588.90" cy="865.80" r="6.5" fill="#0000FF"/>
<circle cx="601.70" cy="885.80" r="6.5" fill="#0000FF"/>
<circle cx="612.20" cy="895.60" r="6.5" fill="#0000FF"/>
<circle cx="620.10" cy="902.50" r="6.5" fill="#0000FF"/>
<circle cx="627.40" cy="908.20" r="6.5" fill="#0000FF"/>
<circle cx="632.90" cy="912.20" r="6.5" fill="#0000FF"/>
<circle cx="638.40" cy="915.90" r="6.5" fill="#0000FF"/>
<circle cx="643.50" cy="918.80" r="6.5" fill="#0000FF"/>
<text transform="translate(156.92,710.30) scale(1.0203,1)" font-size="29" font-family="Liberation Sans, Arial, sans-serif" fill="#FF0000" stroke="#FF0000" stroke-width="0.45" >Current</text>
<text transform="translate(171.87,862.00) scale(1.0061,1)" font-size="29" font-family="Liberation Sans, Arial, sans-serif" fill="#0000FF" stroke="#0000FF" stroke-width="0.45" >Power</text>
<text transform="translate(335.25,970.00) scale(1.0203,1)" font-size="29" font-family="Liberation Sans, Arial, sans-serif" fill="#000" stroke="#000" stroke-width="0.45" >Voltage</text>
<rect x="1087.6" y="537.4" width="552.6000000000001" height="443.80000000000007" fill="none" stroke="#000" stroke-width="2.8"/>
<line x1="1079.30" y1="980.78" x2="1087.60" y2="980.78" stroke="#000" stroke-width="2.8" />
<line x1="1071.10" y1="951.20" x2="1087.60" y2="951.20" stroke="#000" stroke-width="2.8" />
<text transform="translate(1044.59,959.20) scale(0.9327,1)" font-size="29.1" font-family="Liberation Sans, Arial, sans-serif" fill="#000" stroke="#000" stroke-width="0.45" >0</text>
<line x1="1079.30" y1="921.62" x2="1087.60" y2="921.62" stroke="#000" stroke-width="2.8" />
<line x1="1071.10" y1="892.04" x2="1087.60" y2="892.04" stroke="#000" stroke-width="2.8" />
<text transform="translate(1044.99,900.04) scale(0.9327,1)" font-size="29.1" font-family="Liberation Sans, Arial, sans-serif" fill="#000" stroke="#000" stroke-width="0.45" >2</text>
<line x1="1079.30" y1="862.46" x2="1087.60" y2="862.46" stroke="#000" stroke-width="2.8" />
<line x1="1071.10" y1="832.88" x2="1087.60" y2="832.88" stroke="#000" stroke-width="2.8" />
<text transform="translate(1044.45,840.88) scale(0.9327,1)" font-size="29.1" font-family="Liberation Sans, Arial, sans-serif" fill="#000" stroke="#000" stroke-width="0.45" >4</text>
<line x1="1079.30" y1="803.30" x2="1087.60" y2="803.30" stroke="#000" stroke-width="2.8" />
<line x1="1071.10" y1="773.72" x2="1087.60" y2="773.72" stroke="#000" stroke-width="2.8" />
<text transform="translate(1044.72,781.72) scale(0.9327,1)" font-size="29.1" font-family="Liberation Sans, Arial, sans-serif" fill="#000" stroke="#000" stroke-width="0.45" >6</text>
<line x1="1079.30" y1="744.14" x2="1087.60" y2="744.14" stroke="#000" stroke-width="2.8" />
<line x1="1071.10" y1="714.56" x2="1087.60" y2="714.56" stroke="#000" stroke-width="2.8" />
<text transform="translate(1044.72,722.56) scale(0.9327,1)" font-size="29.1" font-family="Liberation Sans, Arial, sans-serif" fill="#000" stroke="#000" stroke-width="0.45" >8</text>
<line x1="1079.30" y1="684.98" x2="1087.60" y2="684.98" stroke="#000" stroke-width="2.8" />
<line x1="1071.10" y1="655.40" x2="1087.60" y2="655.40" stroke="#000" stroke-width="2.8" />
<text transform="translate(1029.52,663.40) scale(0.9327,1)" font-size="29.1" font-family="Liberation Sans, Arial, sans-serif" fill="#000" stroke="#000" stroke-width="0.45" >10</text>
<line x1="1079.30" y1="625.82" x2="1087.60" y2="625.82" stroke="#000" stroke-width="2.8" />
<line x1="1071.10" y1="596.24" x2="1087.60" y2="596.24" stroke="#000" stroke-width="2.8" />
<text transform="translate(1029.93,604.24) scale(0.9327,1)" font-size="29.1" font-family="Liberation Sans, Arial, sans-serif" fill="#000" stroke="#000" stroke-width="0.45" >12</text>
<line x1="1079.30" y1="566.66" x2="1087.60" y2="566.66" stroke="#000" stroke-width="2.8" />
<line x1="1071.10" y1="537.08" x2="1087.60" y2="537.08" stroke="#000" stroke-width="2.8" />
<text transform="translate(1029.39,545.08) scale(0.9327,1)" font-size="29.1" font-family="Liberation Sans, Arial, sans-serif" fill="#000" stroke="#000" stroke-width="0.45" >14</text>
<line x1="1087.32" y1="981.20" x2="1087.32" y2="989.20" stroke="#000" stroke-width="2.8" />
<line x1="1142.60" y1="981.20" x2="1142.60" y2="997.20" stroke="#000" stroke-width="2.8" />
<text transform="translate(1134.92,1029.00) scale(0.9423,1)" font-size="29.1" font-family="Liberation Sans, Arial, sans-serif" fill="#000" stroke="#000" stroke-width="0.45" >0</text>
<line x1="1197.88" y1="981.20" x2="1197.88" y2="989.20" stroke="#000" stroke-width="2.8" />
<line x1="1253.15" y1="981.20" x2="1253.15" y2="997.20" stroke="#000" stroke-width="2.8" />
<text transform="translate(1245.54,1029.00) scale(0.9423,1)" font-size="29.1" font-family="Liberation Sans, Arial, sans-serif" fill="#000" stroke="#000" stroke-width="0.45" >5</text>
<line x1="1308.42" y1="981.20" x2="1308.42" y2="989.20" stroke="#000" stroke-width="2.8" />
<line x1="1363.70" y1="981.20" x2="1363.70" y2="997.20" stroke="#000" stroke-width="2.8" />
<text transform="translate(1348.53,1029.00) scale(0.9423,1)" font-size="29.1" font-family="Liberation Sans, Arial, sans-serif" fill="#000" stroke="#000" stroke-width="0.45" >10</text>
<line x1="1418.97" y1="981.20" x2="1418.97" y2="989.20" stroke="#000" stroke-width="2.8" />
<line x1="1474.25" y1="981.20" x2="1474.25" y2="997.20" stroke="#000" stroke-width="2.8" />
<text transform="translate(1459.15,1029.00) scale(0.9423,1)" font-size="29.1" font-family="Liberation Sans, Arial, sans-serif" fill="#000" stroke="#000" stroke-width="0.45" >15</text>
<line x1="1529.52" y1="981.20" x2="1529.52" y2="989.20" stroke="#000" stroke-width="2.8" />
<line x1="1584.80" y1="981.20" x2="1584.80" y2="997.20" stroke="#000" stroke-width="2.8" />
<text transform="translate(1569.98,1029.00) scale(0.9423,1)" font-size="29.1" font-family="Liberation Sans, Arial, sans-serif" fill="#000" stroke="#000" stroke-width="0.45" >20</text>
<line x1="1640.07" y1="981.20" x2="1640.07" y2="989.20" stroke="#000" stroke-width="2.8" />
<text transform="translate(1012.70,911.70) rotate(-90) scale(0.9974,1)" font-size="37.8" font-family="Liberation Sans, Arial, sans-serif" fill="#000" stroke="#000" stroke-width="0.45">Output voltage (V)</text>
<text transform="translate(1201.49,1082.80) scale(1.0130,1)" font-size="37.5" font-family="Liberation Sans, Arial, sans-serif" fill="#000" stroke="#000" stroke-width="0.45" >Output current (uA)</text>
<line x1="1087.90" y1="950.80" x2="1187.50" y2="560.30" stroke="#4472C4" stroke-width="3.2" stroke-dasharray="12.2 9.48" />
<line x1="1087.90" y1="950.80" x2="1443.90" y2="659.80" stroke="#4472C4" stroke-width="3.2" stroke-dasharray="12.2 9.48" />
<line x1="1159.57" y1="608.86" x2="1164.03" y2="618.24" stroke="#333" stroke-width="1.0" />
<line x1="1168.35" y1="632.63" x2="1177.95" y2="701.37" stroke="#333" stroke-width="1.0" />
<line x1="1182.09" y1="715.84" x2="1187.71" y2="728.46" stroke="#333" stroke-width="1.0" />
<line x1="1207.58" y1="750.90" x2="1209.92" y2="755.30" stroke="#333" stroke-width="1.0" />
<line x1="1223.19" y1="781.46" x2="1223.81" y2="787.44" stroke="#333" stroke-width="1.0" />
<line x1="1240.24" y1="835.09" x2="1253.16" y2="868.51" stroke="#333" stroke-width="1.0" />
<line x1="1261.15" y1="881.10" x2="1267.75" y2="888.00" stroke="#333" stroke-width="1.0" />
<line x1="1344.18" y1="931.28" x2="1363.92" y2="932.52" stroke="#333" stroke-width="1.0" />
<line x1="1379.05" y1="933.85" x2="1400.55" y2="936.25" stroke="#333" stroke-width="1.0" />
<line x1="1415.68" y1="937.66" x2="1471.42" y2="941.74" stroke="#333" stroke-width="1.0" />
<line x1="1486.58" y1="942.86" x2="1524.32" y2="945.64" stroke="#333" stroke-width="1.0" />
<line x1="1575.60" y1="949.97" x2="1593.60" y2="950.13" stroke="#333" stroke-width="1.0" />
<rect x="1141.20" y="574.10" width="9.2" height="9.2" fill="#000"/>
<rect x="1141.60" y="579.60" width="9.2" height="9.2" fill="#000"/>
<rect x="1142.50" y="586.00" width="9.2" height="9.2" fill="#000"/>
<rect x="1144.30" y="592.40" width="9.2" height="9.2" fill="#000"/>
<rect x="1147.10" y="597.40" width="9.2" height="9.2" fill="#000"/>
<rect x="1151.70" y="597.40" width="9.2" height="9.2" fill="#000"/>
<rect x="1162.70" y="620.50" width="9.2" height="9.2" fill="#000"/>
<rect x="1174.40" y="704.30" width="9.2" height="9.2" fill="#000"/>
<rect x="1186.20" y="730.80" width="9.2" height="9.2" fill="#000"/>
<rect x="1199.40" y="739.60" width="9.2" height="9.2" fill="#000"/>
<rect x="1208.90" y="757.40" width="9.2" height="9.2" fill="#000"/>
<rect x="1217.80" y="769.30" width="9.2" height="9.2" fill="#000"/>
<rect x="1220.00" y="790.40" width="9.2" height="9.2" fill="#000"/>
<rect x="1224.50" y="802.40" width="9.2" height="9.2" fill="#000"/>
<rect x="1226.90" y="813.90" width="9.2" height="9.2" fill="#000"/>
<rect x="1251.30" y="871.00" width="9.2" height="9.2" fill="#000"/>
<rect x="1268.40" y="888.90" width="9.2" height="9.2" fill="#000"/>
<rect x="1276.10" y="900.80" width="9.2" height="9.2" fill="#000"/>
<rect x="1290.80" y="906.00" width="9.2" height="9.2" fill="#000"/>
<rect x="1297.20" y="911.80" width="9.2" height="9.2" fill="#000"/>
<rect x="1302.10" y="915.50" width="9.2" height="9.2" fill="#000"/>
<rect x="1315.10" y="917.00" width="9.2" height="9.2" fill="#000"/>
<rect x="1321.90" y="918.60" width="9.2" height="9.2" fill="#000"/>
<rect x="1326.50" y="920.50" width="9.2" height="9.2" fill="#000"/>
<rect x="1328.90" y="923.80" width="9.2" height="9.2" fill="#000"/>
<rect x="1332.00" y="926.20" width="9.2" height="9.2" fill="#000"/>
<rect x="1366.90" y="928.40" width="9.2" height="9.2" fill="#000"/>
<rect x="1403.50" y="932.50" width="9.2" height="9.2" fill="#000"/>
<rect x="1474.40" y="937.70" width="9.2" height="9.2" fill="#000"/>
<rect x="1527.30" y="941.60" width="9.2" height="9.2" fill="#000"/>
<rect x="1539.10" y="945.30" width="9.2" height="9.2" fill="#000"/>
<rect x="1544.30" y="944.60" width="9.2" height="9.2" fill="#000"/>
<rect x="1549.40" y="943.40" width="9.2" height="9.2" fill="#000"/>
<rect x="1557.50" y="946.00" width="9.2" height="9.2" fill="#000"/>
<rect x="1563.40" y="945.30" width="9.2" height="9.2" fill="#000"/>
<rect x="1596.60" y="945.60" width="9.2" height="9.2" fill="#000"/>
<circle cx="1170.6" cy="637.4" r="10.6" fill="#92D050"/>
<circle cx="1237.5" cy="828.0" r="10.6" fill="#92D050"/>
<text transform="translate(1123.30,649.80) scale(0.9746,1)" font-size="39.5" font-family="Liberation Sans, Arial, sans-serif" fill="#000" stroke="#000" stroke-width="0.45" >A</text>
<text transform="translate(1256.81,849.30) scale(0.9710,1)" font-size="38.5" font-family="Liberation Sans, Arial, sans-serif" fill="#000" stroke="#000" stroke-width="0.45" >B</text>
<polygon points="1217.15,666.56 1265.98,724.24 1272.08,719.07 1280.70,753.70 1247.97,739.48 1254.07,734.32 1205.25,676.64" fill="#4472C4" stroke="#2F528F" stroke-width="1.7" stroke-linejoin="miter"/>
</svg></body></html>
